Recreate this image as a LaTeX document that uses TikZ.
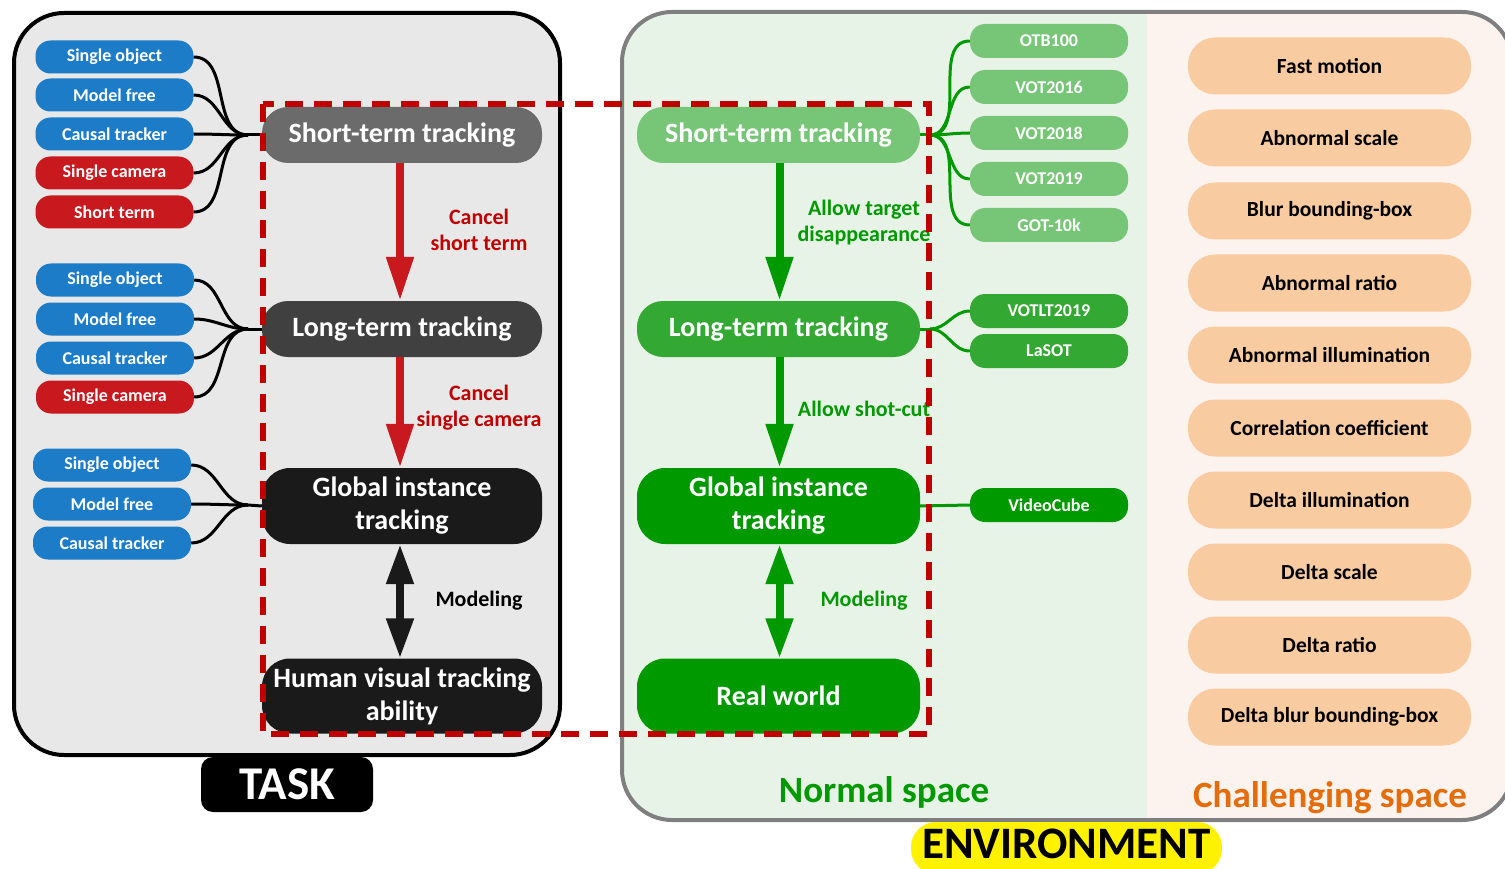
\documentclass[tikz,border=0pt]{standalone}
\usepackage{fontspec}
\setmainfont{Carlito}
\usetikzlibrary{arrows.meta}
\definecolor{cblue}{RGB}{28,124,200}
\definecolor{cred}{RGB}{200,25,30}
\definecolor{labred}{RGB}{192,0,0}
\definecolor{dashred}{RGB}{192,0,0}
\definecolor{gA}{RGB}{107,107,107}
\definecolor{gB}{RGB}{64,64,64}
\definecolor{gC}{RGB}{26,26,26}
\definecolor{grL}{RGB}{119,198,119}
\definecolor{grM}{RGB}{51,168,51}
\definecolor{grD}{RGB}{0,153,0}
\definecolor{peach}{RGB}{248,203,160}
\definecolor{taskbg}{RGB}{232,232,232}
\definecolor{normbg}{RGB}{232,243,232}
\definecolor{chalbg}{RGB}{253,243,238}
\definecolor{orangetxt}{RGB}{228,108,10}
\definecolor{envborder}{RGB}{127,127,127}
\begin{document}
\begin{tikzpicture}[x=1pt,y=-1pt,
  small/.style={fill=#1, text=white, minimum width=158pt, minimum height=33pt, rounded corners=15pt, inner sep=0pt, font=\fontsize{18}{20}\selectfont\bfseries},
  mainnode/.style={fill=#1, text=white, minimum width=280pt, minimum height=56pt, rounded corners=26pt, inner sep=0pt, align=center, font=\fontsize{28}{33}\selectfont\bfseries},
  bignode/.style={mainnode=#1, minimum height=76pt, rounded corners=28pt},
  envnode/.style={mainnode=#1, minimum width=283pt},
  envbig/.style={bignode=#1, minimum width=283pt},
  dsnode/.style={fill=#1, text=white, minimum width=158pt, minimum height=34pt, rounded corners=15pt, inner sep=0pt, font=\fontsize{18}{20}\selectfont\bfseries},
  chal/.style={fill=peach, text=black, minimum width=283pt, minimum height=57pt, rounded corners=27pt, inner sep=0pt, font=\fontsize{21.5}{24}\selectfont\bfseries},
  conn/.style={line width=3pt, black},
  gconn/.style={line width=3pt, grD},
  bigarrow/.style={line width=8pt, draw=#1, -{Triangle[width=26pt,length=44pt]}},
  dblarrow/.style={line width=8pt, draw=#1, {Triangle[width=26pt,length=40pt]}-{Triangle[width=26pt,length=40pt]}},
  lab/.style={text=#1, align=center, inner sep=0pt, font=\fontsize{22}{26}\selectfont\bfseries},
  reddash/.style={line width=5.5pt, draw=dashred, dash pattern=on 18pt off 11pt}
]
\useasboundingbox (0,0) rectangle (1505,869);

% ---------- TASK panel ----------
\draw[line width=4pt, fill=taskbg, rounded corners=50pt] (14,13) rectangle (560,755);

% ---------- ENVIRONMENT panel ----------
\begin{scope}
  \clip[rounded corners=50pt] (622,12) rectangle (1512,820);
  \fill[chalbg] (622,12) rectangle (1512,820);
  \fill[normbg] (622,12) rectangle (1147,820);
\end{scope}
\draw[line width=4pt, draw=envborder, rounded corners=50pt] (622,12) rectangle (1512,820);

% ---------- left attribute nodes ----------
\node[small=cblue] (l1a) at (114.5,57) {Single object};
\node[small=cblue] (l1b) at (114.5,95) {Model free};
\node[small=cblue] (l1c) at (114.5,134) {Causal tracker};
\node[small=cred]  (l1d) at (114.5,173) {Single camera};
\node[small=cred]  (l1e) at (114.5,212) {Short term};

\node[small=cblue] (l2a) at (115,280) {Single object};
\node[small=cblue] (l2b) at (115,319) {Model free};
\node[small=cblue] (l2c) at (115,358) {Causal tracker};
\node[small=cred]  (l2d) at (115,397) {Single camera};

\node[small=cblue] (l3a) at (112,465) {Single object};
\node[small=cblue] (l3b) at (112,504) {Model free};
\node[small=cblue] (l3c) at (112,543) {Causal tracker};

% ---------- task chain ----------
\node[mainnode=gA] (ts) at (402,135) {Short-term tracking};
\node[mainnode=gB] (tl) at (402,329) {Long-term tracking};
\node[bignode=gC]  (tg) at (402,506) {Global instance\\tracking};
\node[bignode=gC, minimum height=75pt]  (th) at (402,696) {Human visual tracking\\ability};

\coordinate (j1) at (248,135);
\coordinate (j2) at (248,329);
\coordinate (j3) at (248,505);

\foreach \n in {l1a,l1b,l1c,l1d,l1e}
  \draw[conn] (\n.east) to[out=0,in=180] (j1);
\draw[conn] (j1) -- (ts.west);
\foreach \n in {l2a,l2b,l2c,l2d}
  \draw[conn] (\n.east) to[out=0,in=180] (j2);
\draw[conn] (j2) -- (tl.west);
\foreach \n in {l3a,l3b,l3c}
  \draw[conn] (\n.east) to[out=0,in=180] (j3);
\draw[conn] (j3) -- (tg.west);

\draw[bigarrow=cred] ([xshift=-2pt]ts.south) -- ([xshift=-2pt]tl.north);
\draw[bigarrow=cred] ([xshift=-2pt]tl.south) -- ([xshift=-2pt]tg.north);
\draw[dblarrow=gC] ([xshift=-2pt]tg.south) -- ([xshift=-2pt]th.north);

\node[lab=labred] (lab1) at (479,230) {Cancel\\short term};
\node[lab=labred] (lab2) at (479,408) {Cancel\\single camera};
\node[lab=black]  (lab3) at (479,601) {Modeling};

% ---------- environment chain ----------
\node[envnode=grL] (es) at (778.5,135) {Short-term tracking};
\node[envnode=grM] (el) at (778.5,329) {Long-term tracking};
\node[envbig=grD]  (eg) at (778.5,506) {Global instance\\tracking};
\node[envbig=grD, minimum height=75pt]  (er) at (778.5,696) {Real world};

\draw[bigarrow=grD] ([xshift=1pt]es.south) -- ([xshift=1pt]el.north);
\draw[bigarrow=grD] ([xshift=1pt]el.south) -- ([xshift=1pt]eg.north);
\draw[dblarrow=grD] ([xshift=1pt]eg.south) -- ([xshift=1pt]er.north);

\node[lab=grD] (lab4) at (864,223) {Allow target\\disappearance};
\node[lab=grD] (lab5) at (864,409) {Allow shot-cut};
\node[lab=grD] (lab6) at (864,601) {Modeling};

% ---------- datasets ----------
\node[dsnode=grL] (d1) at (1049,41) {OTB100};
\node[dsnode=grL] (d2) at (1049,87) {VOT2016};
\node[dsnode=grL] (d3) at (1049,133) {VOT2018};
\node[dsnode=grL] (d4) at (1049,179) {VOT2019};
\node[dsnode=grL] (d5) at (1049,225) {GOT-10k};
\node[dsnode=grM] (d6) at (1049,311) {VOTLT2019};
\node[dsnode=grM] (d7) at (1049,351) {LaSOT};
\node[dsnode=grD] (d8) at (1049,505) {VideoCube};

\coordinate (k1) at (930,135);
\coordinate (k2) at (930,329);
\draw[gconn] (es.east) -- (k1);
\foreach \n in {d1,d2,d3,d4,d5}
  \draw[gconn] (k1) to[out=0,in=180] (\n.west);
\draw[gconn] (el.east) -- (k2);
\foreach \n in {d6,d7}
  \draw[gconn] (k2) to[out=0,in=180] (\n.west);
\draw[gconn] (eg.east) -- (d8.west);

% ---------- challenging attributes ----------
\node[chal] (c1) at (1329.5,66) {Fast motion};
\node[chal] (c2) at (1329.5,138) {Abnormal scale};
\node[chal] (c3) at (1329.5,211) {Blur bounding-box};
\node[chal] (c4) at (1329.5,283) {Abnormal ratio};
\node[chal] (c5) at (1329.5,355) {Abnormal illumination};
\node[chal] (c6) at (1329.5,428) {Correlation coefficient};
\node[chal] (c7) at (1329.5,500) {Delta illumination};
\node[chal] (c8) at (1329.5,572) {Delta scale};
\node[chal] (c9) at (1329.5,645) {Delta ratio};
\node[chal] (c10) at (1329.5,717) {Delta blur bounding-box};

% ---------- red dashed frame ----------
\draw[reddash] (263,104) rectangle (929,734);

% ---------- titles ----------
\node[text=grD, inner sep=0pt, font=\fontsize{37}{40}\selectfont\bfseries] (ns) at (884,792) {Normal space};
\node[text=orangetxt, inner sep=0pt, font=\fontsize{37}{40}\selectfont\bfseries] (cs) at (1330,798) {Challenging space};
\node[fill=black, text=white, rounded corners=12pt, minimum width=172pt, minimum height=55pt, inner sep=0pt, font=\fontsize{47}{50}\selectfont\bfseries] (task) at (287,784.5) {TASK};
\fill[yellow, rounded corners=25pt] (911,822) rectangle (1222,874);
\node[text=black, inner sep=0pt, font=\fontsize{45}{48}\selectfont\bfseries] (env) at (1066.5,844) {ENVIRONMENT};
\end{tikzpicture}
\end{document}
